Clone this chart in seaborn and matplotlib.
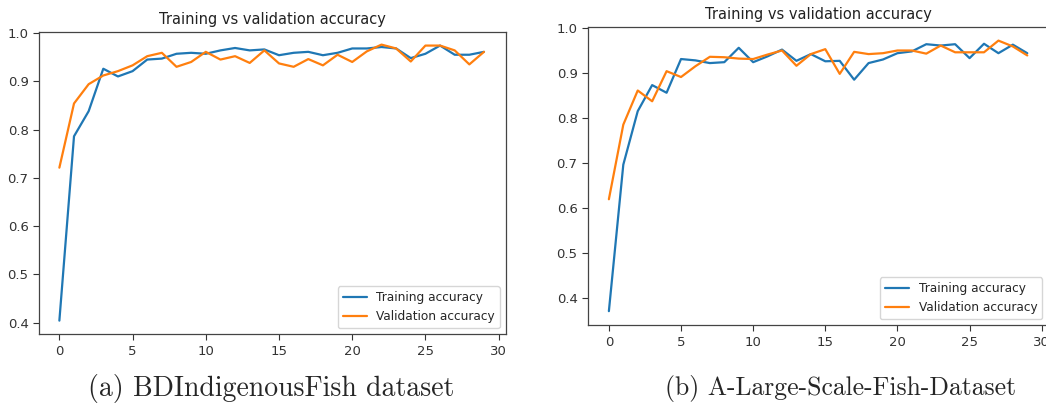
import matplotlib
matplotlib.use("Agg")
import matplotlib.pyplot as plt
import seaborn as sns
import pandas as pd

epochs = list(range(30))

train_a = [0.404, 0.786, 0.838, 0.926, 0.910, 0.921, 0.945, 0.947, 0.957, 0.959,
           0.957, 0.964, 0.969, 0.964, 0.966, 0.954, 0.959, 0.961, 0.954, 0.959,
           0.968, 0.968, 0.971, 0.968, 0.948, 0.957, 0.974, 0.955, 0.955, 0.961]
val_a = [0.721, 0.854, 0.894, 0.912, 0.921, 0.933, 0.952, 0.959, 0.930, 0.940,
         0.961, 0.945, 0.952, 0.938, 0.964, 0.937, 0.930, 0.946, 0.933, 0.955,
         0.940, 0.962, 0.976, 0.968, 0.941, 0.974, 0.974, 0.964, 0.935, 0.961]

train_b = [0.370, 0.696, 0.815, 0.873, 0.856, 0.931, 0.928, 0.922, 0.924, 0.956,
           0.924, 0.937, 0.952, 0.927, 0.942, 0.926, 0.927, 0.885, 0.922, 0.930,
           0.944, 0.948, 0.964, 0.961, 0.964, 0.933, 0.965, 0.944, 0.963, 0.944]
val_b = [0.619, 0.785, 0.861, 0.837, 0.904, 0.891, 0.915, 0.936, 0.935, 0.932,
         0.931, 0.941, 0.950, 0.916, 0.942, 0.953, 0.898, 0.947, 0.942, 0.944,
         0.950, 0.950, 0.943, 0.961, 0.946, 0.946, 0.946, 0.972, 0.959, 0.939]

title = "Training vs validation accuracy"
series_labels = ["Training accuracy", "Validation accuracy"]
captions = ["(a) BDIndigenousFish dataset", "(b) A-Large-Scale-Fish-Dataset"]
yticks = [0.4, 0.5, 0.6, 0.7, 0.8, 0.9, 1.0]
xticks = [0, 5, 10, 15, 20, 25, 30]

sns.set_style("ticks")
plt.rcParams["font.family"] = ["DejaVu Sans"]
colors = ["#1f77b4", "#ff7f0e"]

fig = plt.figure(figsize=(10.46, 4.11), dpi=100)
ax1 = fig.add_axes([0.0373, 0.187, 0.4464, 0.735])
ax2 = fig.add_axes([0.5621, 0.209, 0.4400, 0.725])

panels = [(ax1, train_a, val_a, (-1.39, 30.5), (0.376, 1.002)),
          (ax2, train_b, val_b, (-1.45, 30.45), (0.339, 1.002))]
for ax, tr, va, xlim, ylim in panels:
    df = pd.DataFrame({"epoch": epochs + epochs,
                       "acc": tr + va,
                       "series": [series_labels[0]] * len(tr) + [series_labels[1]] * len(va)})
    sns.lineplot(data=df, x="epoch", y="acc", hue="series", palette=colors,
                 linewidth=1.6, ax=ax)
    ax.set_xlim(*xlim)
    ax.set_ylim(*ylim)
    ax.set_xticks(xticks)
    ax.set_yticks(yticks)
    ax.set_xlabel("")
    ax.set_ylabel("")
    ax.set_title(title, fontsize=10.5, color="#222222", pad=6)
    ax.tick_params(labelsize=9.5, colors="#333333", length=4, width=0.8)
    for s in ax.spines.values():
        s.set_color("#444444")
        s.set_linewidth(0.9)
    leg = ax.legend(loc="lower right", fontsize=8.7, frameon=True)
    leg.set_title(None)

fig.text(0.259, 0.054, captions[0], fontsize=20, family="cmr10", ha="center", va="center")
fig.text(0.804, 0.054, captions[1], fontsize=18.5, family="cmr10", ha="center", va="center")

fig.savefig("out.png", dpi=100)
